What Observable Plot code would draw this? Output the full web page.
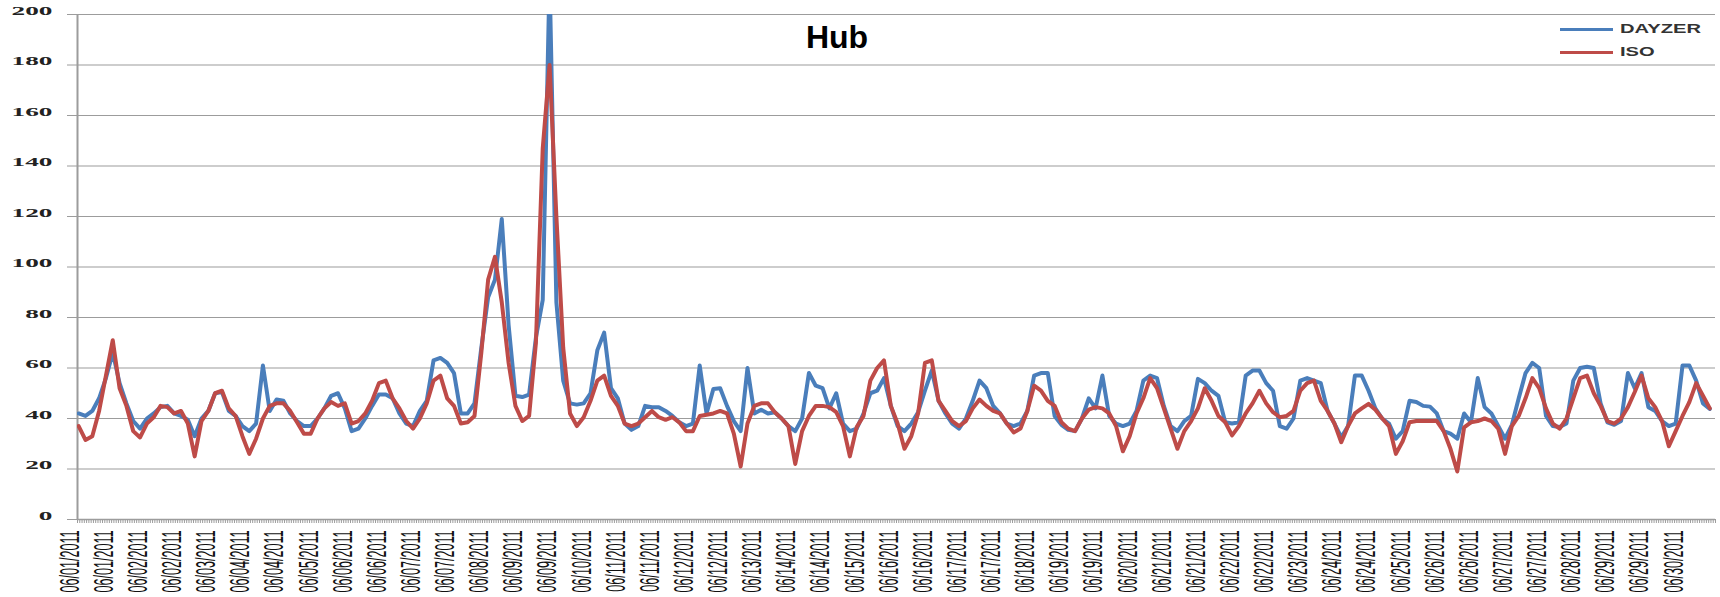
<!DOCTYPE html>
<html><head><meta charset="utf-8">
<script src="https://cdn.jsdelivr.net/npm/d3@7"></script>
<script src="https://cdn.jsdelivr.net/npm/@observablehq/plot@0.6"></script>
<style>
body{margin:0;background:#fff;}
#wrap{position:relative;width:1720px;height:597px;overflow:hidden;}
#title{position:absolute;left:837px;top:21px;transform:translateX(-50%);font:bold 32px/1 "Liberation Sans",Arial,sans-serif;color:#000;}
.lg{position:absolute;left:1560px;width:53px;height:3px;}
.lt{position:absolute;left:1620px;font:bold 13px/1 "Liberation Sans",Arial,sans-serif;color:#333;transform:scaleX(1.55);transform-origin:0 0;white-space:nowrap;}
</style></head><body><div id="wrap"><div id="title">Hub</div></div>
<script>
// 3-hourly readings (hour 0,3,6,...,21 of each day), June 1-30 2011
const dayzer = [
42,41,43,48,56,66,54,46,
39,36,40,42,44.5,45,42,41,
39.5,33,40,43,50,50.5,43,41,
37,35,38,61,43,47.5,47,42,
39,37,37,40,44,49,50,44,
35,36,40,45,49.5,49.5,48,42,
38,37,43,47,63,64,62,58,
42,42,46,68,88,95,119,77,
49,48.5,49.5,72,87,215,86,55,
46,45.5,46,50,67,74,52,48,
38,35.5,37,45,44.5,44.5,43,41,
38.5,37,38,61,42,51.7,52,45,
39,35,60,42,43.5,42,42.5,40,
37,35,40,58,53,52,44,50,
38,35,36,42,50,51,56,45,
37,35,38,42.5,51,59,47,42,
38,36,40,47,55,52,45,42,
38,37,38,43,57,58,58,41,
37.5,35.5,35,40,48,44,57,41,
38,37,38,43,55,57,56,45,
37,35,39,41,55.7,54,51,49,
38.5,38,38.5,57,59,59,54,51,
37,36,40,55,56,55,54,43,
38,32.6,37,57,57,51,44,40,
38,32,35,47,46.5,45,44.7,42,
35,34,32,42,38.5,56,44.5,42,
37,32,37.5,48,58,62,60,41,
37,36.6,38,55,60,60.5,60,46,
38.5,37.5,39,58,52,58,44.5,43,
39,37,38,61,61,55,46,43.8
];
const iso = [
37,31.5,33,43,57,71,52,45,
35,32.5,38,40.5,45,44.5,42,43,
38,25,39,43,50,51,44,41,
33,26,32,40,45,46,46,43,
38.5,34,34,40,44,46.5,45,46,
38,39,42,47,54,55,48,44,
39,36,40,46,55,57,48,45,
38,38.5,41,66,95,104,86,62,
45,39,41,70,147,180,120,68,
42,37,40.5,47,55,57,49,45,
38,37,38,40.5,43,40.5,39.5,40.5,
38.5,35,35,41,41.5,42,43,42,
34,21,38,45,46,46,42.5,40,
37,22,35,41,45,45,44.5,42.5,
37,25,36.6,41,55,60,63,45,
38,28,33,42,62,63,47,43,
39,37,39,44,47.5,45,43,42,
38,34.5,36,43,53,51,47,45,
38.5,36,35,40,43.5,44.5,44,42,
37,27,33,42,48,56,52,44,
36,28,35,39,44,52,47,41,
38.5,33.3,37,42,46,51,46,42.5,
40.5,41,43,51,54,55,47,43,
38,30.6,37,42,44,45.8,43.5,40,
37,26,31,38.5,39,39,39,39,
35,28,19,36.5,38.5,39,40,39,
36,26,37,41,48,56,52,44,
38,36,40,48,56,57,50,45,
39,38,40,44.5,50.5,57,48,44.5,
39,29,35,41,46.5,54,49,44
];
const seriesNames = ["DAYZER","ISO"];
const seriesColors = ["#4a7ebb","#be4b48"];
const yTicks = [0,20,40,60,80,100,120,140,160,180,200];
const xTickLabels = [
"06/01/2011","06/01/2011","06/02/2011","06/02/2011","06/03/2011","06/04/2011","06/04/2011","06/05/2011",
"06/06/2011","06/06/2011","06/07/2011","06/07/2011","06/08/2011","06/09/2011","06/09/2011","06/10/2011",
"06/11/2011","06/11/2011","06/12/2011","06/12/2011","06/13/2011","06/14/2011","06/14/2011","06/15/2011",
"06/16/2011","06/16/2011","06/17/2011","06/17/2011","06/18/2011","06/19/2011","06/19/2011","06/20/2011",
"06/21/2011","06/21/2011","06/22/2011","06/22/2011","06/23/2011","06/24/2011","06/24/2011","06/25/2011",
"06/26/2011","06/26/2011","06/27/2011","06/27/2011","06/28/2011","06/29/2011","06/29/2011","06/30/2011"
];
const sampleStep = 3;      // hours between readings
const labelStep = 15;      // hours between category labels
const totalHours = 720;

const rows = [];
[dayzer, iso].forEach((vals, s) => vals.forEach((v, i) =>
  rows.push({series: seriesNames[s], hour: i * sampleStep + 0.5, value: v})));
const labelHours = xTickLabels.map((d, k) => k * labelStep + 0.5);
const labelByHour = new Map(labelHours.map((h, k) => [h, xTickLabels[k]]));
const hourBounds = d3.range(0, totalHours + 1);

const svg = Plot.plot({
  width: 1720, height: 597,
  marginLeft: 77, marginRight: 5, marginTop: 14, marginBottom: 78,
  style: {fontFamily: "Liberation Sans, Arial, sans-serif", background: "#fff"},
  x: {domain: [0, totalHours], axis: null, label: null},
  y: {domain: [0, 200], axis: null, label: null},
  color: {domain: seriesNames, range: seriesColors},
  marks: [
    Plot.gridY(yTicks, {stroke: "#9c9c9c", strokeOpacity: 1, strokeWidth: 1.2}),
    Plot.axisY(yTicks, {tickSize: 10, tickPadding: 15, stroke: "#9c9c9c", fill: "#222", label: null,
      fontSize: 13, fontWeight: "bold", fontFamily: "Liberation Serif, DejaVu Serif, serif"}),
    Plot.axisX(hourBounds, {tickSize: 4, stroke: "#9c9c9c", tickFormat: () => "", label: null}),
    Plot.axisX(labelHours, {tickSize: 0, tickPadding: 11, tickRotate: -90, label: null, fill: "#111",
      fontSize: 28, fontFamily: "Liberation Sans, Arial, sans-serif",
      tickFormat: (d) => labelByHour.get(d)}),
    Plot.ruleY([0], {stroke: "#9c9c9c", strokeWidth: 1.5}),
    Plot.ruleX([0], {stroke: "#9c9c9c", strokeWidth: 2}),
    Plot.lineY(rows, {x: "hour", y: "value", z: "series", stroke: "series", strokeWidth: 4,
      strokeLinejoin: "round", clip: true})
  ]
});
const wrap = document.getElementById("wrap");
svg.style.position = "absolute"; svg.style.left = "0"; svg.style.top = "0";
wrap.insertBefore(svg, wrap.firstChild);

function stretch(sel, sx, sy) {
  svg.querySelectorAll(sel).forEach(t => {
    let tr = t.getAttribute("transform") || "";
    if (t.hasAttribute("x") || t.hasAttribute("y")) {
      tr += ` translate(${+t.getAttribute("x") || 0},${+t.getAttribute("y") || 0})`;
      t.removeAttribute("x"); t.removeAttribute("y");
    }
    t.setAttribute("transform", `${tr} scale(${sx},${sy})`);
  });
}
stretch('g[aria-label="y-axis tick label"] text', 2.1, 1);
stretch('g[aria-label="x-axis tick label"] text', 0.45, 1);

// legend (HTML overlay)
const legendTops = [22, 45];
seriesNames.forEach((name, i) => {
  const ln = document.createElement("div");
  ln.className = "lg"; ln.style.top = (legendTops[i] + 6) + "px"; ln.style.background = seriesColors[i];
  wrap.appendChild(ln);
  const tx = document.createElement("div");
  tx.className = "lt"; tx.style.top = legendTops[i] + "px"; tx.textContent = name;
  wrap.appendChild(tx);
});
</script>
</body></html>
